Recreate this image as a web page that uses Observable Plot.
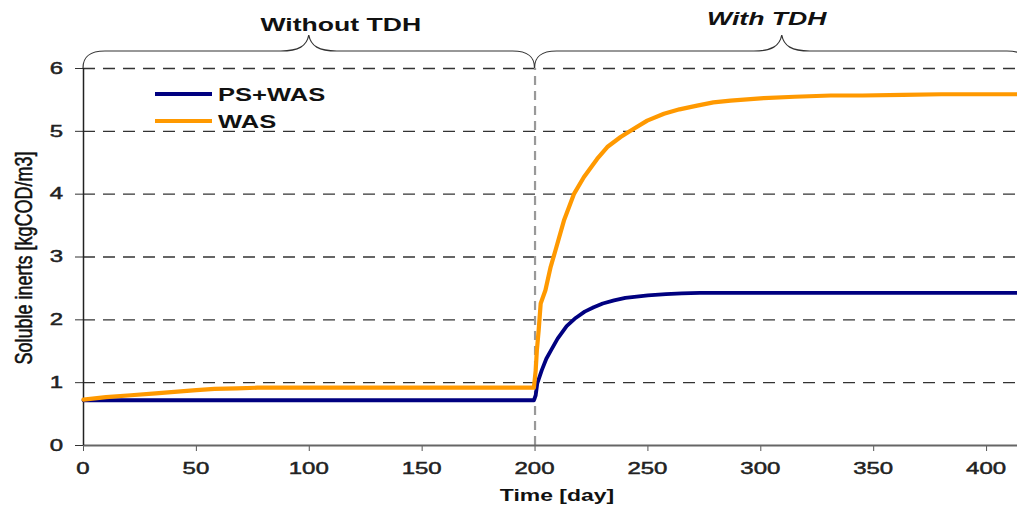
<!DOCTYPE html>
<html><head><meta charset="utf-8">
<script src="https://cdn.jsdelivr.net/npm/d3@7"></script>
<script src="https://cdn.jsdelivr.net/npm/@observablehq/plot@0.6"></script>
<style>body{margin:0;background:#fff} #chart{position:relative;width:1017px;height:506px}</style>
</head><body><div id="chart"></div>
<script>
// ---- data ----
const xTicks = [0, 50, 100, 150, 200, 250, 300, 350, 400];
const yTicks = [0, 1, 2, 3, 4, 5, 6];
const gridValues = [1, 2, 3, 4, 5, 6];
const seriesNames = ["PS+WAS", "WAS"];
const seriesColors = ["#000080", "#FF9900"];
const psDays = [0, 199.5, 200.3, 201, 203, 205, 207, 210, 214, 218, 222, 226, 230, 235, 240, 245, 250, 258, 265, 273, 290, 320, 360, 414];
const psVals = [0.72, 0.72, 0.80, 0.99, 1.20, 1.38, 1.51, 1.70, 1.90, 2.03, 2.13, 2.20, 2.26, 2.31, 2.35, 2.37, 2.39, 2.41, 2.42, 2.43, 2.43, 2.43, 2.43, 2.43];
const wasDays = [0, 10, 21, 32, 43, 50, 58, 68, 77, 100, 150, 199.5, 200.3, 200.8, 201.6, 202.5, 204.6, 206.9, 209, 212.8, 217.2, 221.6, 227.5, 232, 237.9, 242.3, 249.7, 257.1, 264, 271.8, 279, 286.6, 301.3, 315, 331, 345, 363, 380, 414];
const wasVals = [0.73, 0.77, 0.80, 0.83, 0.86, 0.88, 0.90, 0.91, 0.92, 0.92, 0.92, 0.92, 1.20, 1.51, 1.83, 2.26, 2.47, 2.84, 3.10, 3.58, 4.00, 4.27, 4.56, 4.75, 4.91, 5.01, 5.17, 5.28, 5.35, 5.41, 5.46, 5.49, 5.53, 5.55, 5.57, 5.57, 5.58, 5.59, 5.59];
const switchDay = 200;
const phaseLabels = ["Without TDH", "With TDH"];
const phaseStart = [0, 200];
const phaseEnd = [200, 419];
const xLabel = "Time [day]";
const yLabel = "Soluble inerts [kgCOD/m3]";

const psRows = psDays.map((d, i) => ({day: d, value: psVals[i], series: seriesNames[0]}));
const wasRows = wasDays.map((d, i) => ({day: d, value: wasVals[i], series: seriesNames[1]}));

const FONT = "'Liberation Sans', Arial, sans-serif";
const NS = "http://www.w3.org/2000/svg";
function svgText(parent, str, x, y, opts) {
  const t = document.createElementNS(NS, "text");
  t.textContent = str;
  t.setAttribute("transform", `translate(${x},${y})${opts.rotate ? ` rotate(${opts.rotate})` : ""} scale(${opts.sx || 1},${opts.sy || 1})`);
  t.setAttribute("text-anchor", opts.anchor || "start");
  t.setAttribute("font-size", opts.size);
  t.setAttribute("font-weight", opts.weight || "normal");
  if (opts.italic) t.setAttribute("font-style", "italic");
  t.setAttribute("fill", opts.fill || "#111");
  if (opts.heavy) { t.setAttribute("stroke", opts.fill || "#111"); t.setAttribute("stroke-width", opts.heavy); }
  t.setAttribute("font-family", FONT);
  if (opts.dy) t.setAttribute("dy", opts.dy);
  parent.appendChild(t);
  return t;
}

function annotations(index, scales, values, dims) {
  const g = document.createElementNS(NS, "g");
  const sx = scales.x, sy = scales.y;
  const yb = sy(6), yt = yb - 17, yp = yb - 33;
  const labelDx = [32, -15], labelBase = [31, 25];
  phaseLabels.forEach((lab, i) => {
    const x1 = sx(phaseStart[i]), x2 = sx(phaseEnd[i]), xm = (x1 + x2) / 2;
    const p = document.createElementNS(NS, "path");
    p.setAttribute("d", `M${x1},${yb} C${x1},${yt + 6} ${x1 + 6},${yt} ${x1 + 22},${yt} L${xm - 28},${yt} C${xm - 10},${yt} ${xm - 2},${yt - 5} ${xm},${yp} C${xm + 2},${yt - 5} ${xm + 10},${yt} ${xm + 28},${yt} L${x2 - 22},${yt} C${x2 - 6},${yt} ${x2},${yt + 6} ${x2},${yb}`);
    p.setAttribute("fill", "none");
    p.setAttribute("stroke", "#333");
    p.setAttribute("stroke-width", "1.2");
    g.appendChild(p);
    svgText(g, lab, xm + labelDx[i], labelBase[i], {anchor: "middle", size: 19, weight: "bold", italic: i === 1, sx: 1.4});
  });
  // tick labels (widened like the reference)
  const bottom = dims.height - dims.marginBottom;
  xTicks.forEach(v => svgText(g, String(v), sx(v), bottom + 29, {anchor: "middle", size: 16, sx: 1.5, fill: "#222", heavy: 0.45}));
  yTicks.forEach(v => svgText(g, String(v), dims.marginLeft - 20, sy(v) + 5.7, {anchor: "end", size: 16, sx: 1.5, fill: "#222", heavy: 0.45}));
  // legend
  const lx = dims.marginLeft + 72, ly = [94, 121];
  seriesNames.forEach((name, i) => {
    const l = document.createElementNS(NS, "line");
    l.setAttribute("x1", lx); l.setAttribute("x2", lx + 57);
    l.setAttribute("y1", ly[i]); l.setAttribute("y2", ly[i]);
    l.setAttribute("stroke", seriesColors[i]);
    l.setAttribute("stroke-width", 4);
    g.appendChild(l);
    svgText(g, name, lx + 63, ly[i] + 6.5, {size: 18, weight: "bold", sx: 1.42});
  });
  // axis titles
  svgText(g, xLabel, 557, 501, {anchor: "middle", size: 17, weight: "bold", sx: 1.35});
  svgText(g, yLabel, 24, 258, {anchor: "middle", size: 18, rotate: -90, sy: 1.3, dy: "0.35em", heavy: 0.4});
  return g;
}

const chart = Plot.plot({
  width: 1017,
  height: 506,
  marginLeft: 83,
  marginRight: 0,
  marginTop: 68,
  marginBottom: 61,
  style: {fontFamily: FONT, fontSize: "16px", color: "#222", background: "#fff", overflow: "visible"},
  x: {domain: [0, 413.7]},
  y: {domain: [0, 6]},
  color: {domain: seriesNames, range: seriesColors},
  marks: [
    Plot.ruleY(gridValues, {stroke: "#333", strokeWidth: 1.3, strokeDasharray: "12,8"}),
    Plot.ruleX([switchDay], {y1: 0, y2: 6, stroke: "#999", strokeWidth: 2.2, strokeDasharray: "9,6"}),
    Plot.axisY({ticks: yTicks, tickSize: 8, tickFormat: () => "", label: null, stroke: "#333"}),
    Plot.axisX({ticks: xTicks, tickSize: 6, tickFormat: () => "", label: null, stroke: "#555"}),
    Plot.ruleY([0], {stroke: "#666", strokeWidth: 2}),
    Plot.ruleX([0], {y1: 0, y2: 6, stroke: "#222", strokeWidth: 1.5}),
    Plot.line(psRows, {x: "day", y: "value", stroke: "series", strokeWidth: 3.8}),
    Plot.line(wasRows, {x: "day", y: "value", stroke: "series", strokeWidth: 4.2}),
    annotations
  ]
});

document.getElementById("chart").appendChild(chart);
</script>
</body></html>
